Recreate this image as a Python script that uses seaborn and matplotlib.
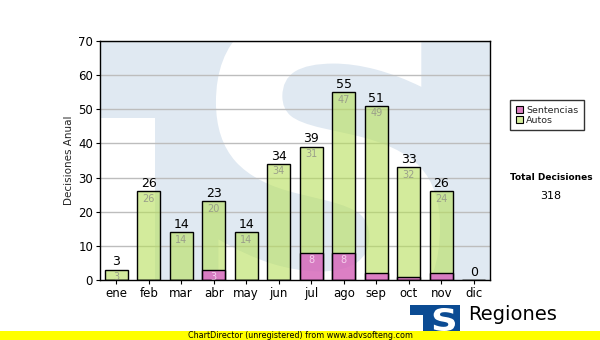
import matplotlib
matplotlib.use("Agg")
import matplotlib.pyplot as plt
import seaborn as sns
import numpy as np
import pandas as pd
from matplotlib.colors import to_rgba
from matplotlib.textpath import TextPath
from matplotlib.font_manager import FontProperties
from matplotlib.patches import PathPatch, Rectangle, Patch
from matplotlib.path import Path

# ---- data -------------------------------------------------------------
months = ["ene", "feb", "mar", "abr", "may", "jun",
          "jul", "ago", "sep", "oct", "nov", "dic"]
sentencias = [0, 0, 0, 3, 0, 0, 8, 8, 2, 1, 2, 0]
autos = [3, 26, 14, 20, 14, 34, 31, 47, 49, 32, 24, 0]
y_ticks = [0, 10, 20, 30, 40, 50, 60, 70]
legend_labels = ["Sentencias", "Autos"]
total_title = "Total Decisiones"
y_label = "Decisiones Anual"
footer_text = "ChartDirector (unregistered) from www.advsofteng.com"
logo_text = "Regiones"

totals = [a + s for a, s in zip(autos, sentencias)]
grand_total = sum(totals)

df = pd.DataFrame({"mes": months, "sentencias": sentencias,
                   "autos": autos, "total": totals})

# ---- styling ----------------------------------------------------------
sns.set_theme(style="white")
plt.rcParams["font.family"] = ["DejaVu Sans"]

W, H = 600, 340
fig = plt.figure(figsize=(W / 100, H / 100), dpi=100)
fig.patch.set_facecolor("white")


def px_box(x0, y0, x1, y1):
    """Figure-fraction rectangle from pixel edges (y measured from top)."""
    return [x0 / W, 1 - y1 / H, (x1 - x0) / W, (y1 - y0) / H]


ax = fig.add_axes(px_box(100, 41, 490, 280))

green_fill = "#b7df5a"
pink_fill = "#e338df"
legend_green = "#d4ec9c"
legend_pink = "#dd80c0"


def s_glyph(x0, y0, x1, y1):
    """Bold 'S' outline stretched into a pixel box, in figure fraction."""
    tp = TextPath((0, 0), "S", size=1,
                  prop=FontProperties(family="DejaVu Sans", weight="bold"))
    v = tp.vertices.copy()
    bx0, by0 = v.min(axis=0)
    bx1, by1 = v.max(axis=0)
    px = x0 + (v[:, 0] - bx0) / (bx1 - bx0) * (x1 - x0)
    py = y1 - (v[:, 1] - by0) / (by1 - by0) * (y1 - y0)
    return Path(np.column_stack([px / W, 1 - py / H]), tp.codes)


def draw_mark(box, notch, sbox, color, clip=False, z=0):
    """Square emblem: coloured block, white notch and a white 'S'."""
    b, n = px_box(*box), px_box(*notch)
    items = [
        Rectangle(b[:2], b[2], b[3], transform=fig.transFigure,
                  facecolor=color, edgecolor="none", zorder=z),
        Rectangle(n[:2], n[2], n[3], transform=fig.transFigure,
                  facecolor="white", edgecolor="none", zorder=z + 0.1),
        PathPatch(s_glyph(*sbox), transform=fig.transFigure,
                  facecolor="white", edgecolor="none", zorder=z + 0.2),
    ]
    for it in items:
        if clip:
            ax.add_patch(it)
            it.set_transform(fig.transFigure)
            it.set_clip_path(ax.patch)
        else:
            fig.add_artist(it)


# faint emblem behind the plot area
draw_mark((100, 41, 490, 280), (100, 118, 155, 280), (188, 5, 440, 330),
          "#e0e9f2", clip=True, z=0)

# ---- bars ---------------------------------------------------------------
sns.barplot(data=df, x="mes", y="total", color=green_fill,
            edgecolor="black", linewidth=1.0, width=0.72, saturation=1,
            ax=ax, zorder=3)
sns.barplot(data=df, x="mes", y="sentencias", color=pink_fill,
            edgecolor="black", linewidth=1.0, width=0.72, saturation=1,
            ax=ax, zorder=4)
# translucent fills, solid outlines
for cont, base in zip(ax.containers, [green_fill, pink_fill]):
    for p in cont:
        p.set_alpha(None)
        p.set_facecolor(to_rgba(base, 0.6))
        p.set_edgecolor("black")

for i, (s, a, t) in enumerate(zip(sentencias, autos, totals)):
    ax.text(i, t + 0.4, f"{t}", ha="center", va="bottom",
            fontsize=9, color="black", zorder=6)
    if a >= 3:
        ax.text(i, t - 0.7, f"{a}", ha="center", va="top",
                fontsize=7, color="#9a9f8a", zorder=6, clip_on=True)
    if s >= 3:
        ax.text(i, s - 0.7, f"{s}", ha="center", va="top",
                fontsize=7, color="#f6d2ee", zorder=6, clip_on=True)

# ---- axes ---------------------------------------------------------------
ax.set_xlim(-0.5, len(months) - 0.5)
ax.set_ylim(0, 70)
ax.set_yticks(y_ticks)
ax.set_yticklabels([str(v) for v in y_ticks], fontsize=8.5)
ax.set_xticks(range(len(months)))
ax.set_xticklabels(months, fontsize=8.5)
ax.set_xlabel("")
ax.set_ylabel(y_label, fontsize=7.5, labelpad=3)
ax.set_facecolor("white")
ax.grid(False)
for yv in y_ticks[1:]:
    ax.axhline(yv, color="#bdbdbd", lw=1.0, zorder=1)
for sp in ax.spines.values():
    sp.set_visible(True)
    sp.set_color("black")
    sp.set_linewidth(1.0)
    sp.set_zorder(7)
ax.tick_params(axis="both", which="both", direction="out", length=3,
               width=0.8, color="black", pad=2, labelcolor="black",
               left=True, bottom=True)

# ---- legend and total --------------------------------------------------
handles = [Patch(facecolor=legend_pink, edgecolor="black", lw=0.8),
           Patch(facecolor=legend_green, edgecolor="black", lw=0.8)]
leg = fig.legend(handles, legend_labels, loc="upper left",
                 bbox_to_anchor=(510 / W, 1 - 100 / H), fontsize=6.8,
                 frameon=True, fancybox=False, handlelength=0.8,
                 handleheight=0.8, handletextpad=0.3, borderpad=0.6,
                 labelspacing=0.1, borderaxespad=0)
leg.get_frame().set_edgecolor("black")
leg.get_frame().set_linewidth(1.0)

fig.text(551 / W, 1 - 178 / H, total_title, ha="center", va="center",
         fontsize=6.5, fontweight="bold", color="black")
fig.text(551 / W, 1 - 196 / H, f"{grand_total}", ha="center", va="center",
         fontsize=8, color="black")

# ---- footer logo and banner ---------------------------------------------
draw_mark((410, 305, 460, 336), (410, 315, 423, 336), (431, 308, 455, 331),
          "#0b4b93", clip=False, z=2)
fig.text(468 / W, 1 - 315 / H, logo_text, ha="left", va="center",
         fontsize=14, color="black")
fig.add_artist(Rectangle((0, 0), 1, 9 / H, transform=fig.transFigure,
                         facecolor="#ffff00", edgecolor="none", zorder=5))
fig.text(0.5, 4.5 / H, footer_text, ha="center", va="center",
         fontsize=5.8, color="black", zorder=6)

fig.savefig("out.png", dpi=100)
